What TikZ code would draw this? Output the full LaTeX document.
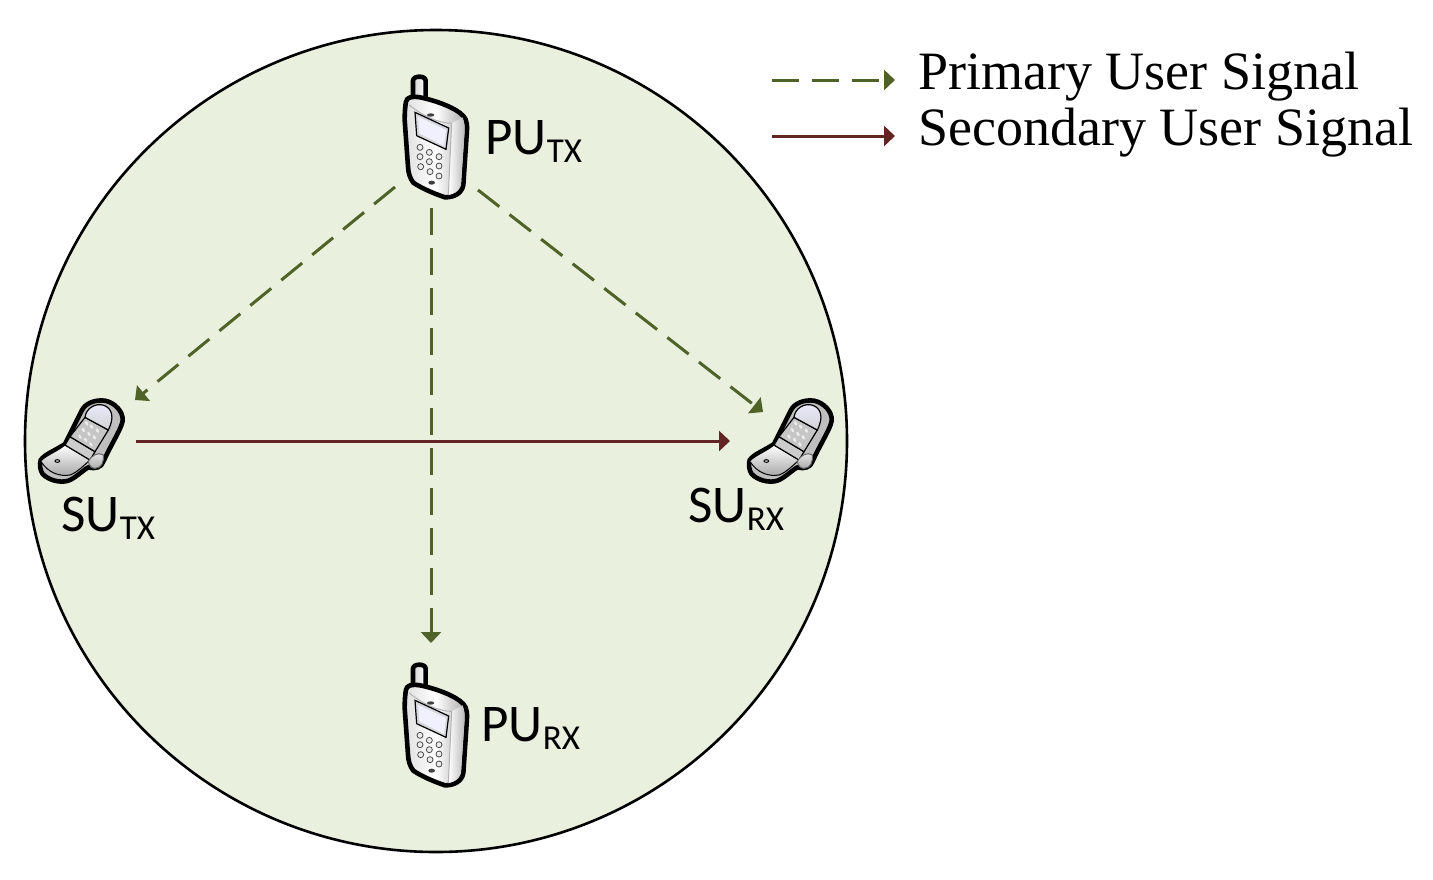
\documentclass[tikz,border=0pt]{standalone}
\usepackage{fontspec}
\usetikzlibrary{arrows.meta}
\setmainfont{Liberation Serif}
\newfontfamily\calib{Carlito}
\definecolor{disc}{HTML}{E9F0DE}
\definecolor{pgreen}{HTML}{4F6228}
\definecolor{sred}{HTML}{632523}
\tikzset{
  x=0.5pt,y=-0.5pt,
  primary/.style={pgreen,line width=1.5pt,dash pattern=on 13.5pt off 6.5pt,-{Triangle[length=5.5pt,width=10pt]}},
  secondary/.style={sred,line width=1.5pt,-{Triangle[length=5.5pt,width=10pt]}},
  devlabel/.style={anchor=base west,inner sep=0pt,font=\calib\fontsize{26.5}{28}\selectfont},
  legendtxt/.style={anchor=base west,inner sep=0pt,font=\fontsize{27}{30}\selectfont},
  iconbox/.style={inner sep=0pt,minimum width=#1},
  ol/.style={line width=2.3pt,line join=round,black},
  zoomed/.style={x=0.16667pt,y=-0.16667pt}
}
% candybar phone, drawn in 3x crop coordinates
\newcommand{\candybar}[2]{%
\begin{scope}[shift={(#1,#2)},zoomed]
  \draw[ol,left color=gray!35,right color=white] (99,115) -- (99,62) .. controls (99,46) and (137,46) .. (137,62) -- (137,125) -- cycle;
  \draw[ol,left color=gray!25,right color=gray!70,middle color=white]
    (78,125) .. controls (80,112) and (95,108) .. (120,112)
    .. controls (170,122) and (230,145) .. (250,168)
    .. controls (262,180) and (262,200) .. (260,225)
    -- (250,375) .. controls (245,402) and (220,412) .. (195,412)
    .. controls (160,400) and (125,385) .. (100,368)
    .. controls (90,355) and (85,340) .. (84,320)
    -- (74,180) .. controls (74,155) and (76,135) .. (78,125) -- cycle;
  \shade[left color=white,right color=gray!55] (215,190) -- (248,172) .. controls (255,190) and (255,210) .. (253,230) -- (243,375) .. controls (235,395) and (222,402) .. (205,405) -- (215,190) -- cycle;
  \draw[line width=0.5pt,gray!60] (88,135) .. controls (130,170) and (180,190) .. (215,190) -- (205,405);
  \draw[line width=0.6pt,black,fill=blue!8!gray!30] (105,157) -- (206,204) -- (198,268) -- (110,227) -- cycle;
  \fill[blue!6!white] (114,170) -- (198,210) -- (192,258) -- (118,220) -- cycle;
  \fill[black!75] (152,165) ellipse (11 and 5);
  \fill[black!75] (155,368) ellipse (10 and 6);
  \foreach \kx/\ky in {120/262,148/277,177/290,120/290,148/305,177/318,122/320,150/335,177/348}
    \draw[line width=0.4pt,black!70,fill=gray!15] (\kx,\ky) circle (9);
\end{scope}}
% flip phone, drawn in 3x crop coordinates
\newcommand{\flipphone}[2]{%
\begin{scope}[shift={(#1,#2)},zoomed]
  \draw[ol,fill=gray!50]
    (62,240) .. controls (75,222) and (105,212) .. (135,192)
    -- (185,92) .. controls (195,70) and (225,58) .. (255,62)
    .. controls (285,68) and (310,95) .. (308,122)
    .. controls (305,145) and (275,190) .. (250,245)
    .. controls (245,262) and (225,268) .. (205,262)
    .. controls (190,270) and (165,295) .. (145,302)
    .. controls (120,310) and (85,300) .. (68,282)
    .. controls (60,270) and (58,255) .. (62,240) -- cycle;
  \draw[line width=0.5pt,black,top color=white,bottom color=gray!70] (62,243) .. controls (80,225) and (110,215) .. (135,195) -- (210,240) .. controls (190,258) and (170,278) .. (150,285) .. controls (120,290) and (85,280) .. (62,243) -- cycle;
  \draw[line width=0.6pt,black,fill=gray!40] (135,195) -- (150,170) -- (225,215) -- (210,240) -- cycle;
  \draw[line width=0.6pt,black,fill=gray!45] (150,170) -- (195,112) -- (265,150) -- (225,215) -- cycle;
  \draw[line width=0.6pt,black,top color=blue!8!white,bottom color=gray!35] (195,112) .. controls (198,85) and (225,68) .. (252,76) .. controls (275,85) and (285,110) .. (265,150) -- cycle;
  \foreach \kx/\ky in {200/130,215/140,232/152,190/150,207/162,223/172,180/170,197/180,213/193}
    \fill[white!85!gray,rotate around={30:(\kx,\ky)}] (\kx,\ky) ellipse (4 and 7);
  \draw[line width=0.5pt,black!60,top color=gray!15,bottom color=gray!65] (205,245) .. controls (215,225) and (235,215) .. (250,225) .. controls (252,245) and (245,265) .. (225,265) .. controls (215,265) and (208,258) .. (205,245) -- cycle;
  \draw[line width=0.5pt,black,fill=gray!30] (112,243) ellipse (7 and 4);
\end{scope}}
\begin{document}
\begin{tikzpicture}
  \useasboundingbox (0,0) rectangle (1433,879);
  \fill[white] (0,0) rectangle (1433,879);
  \node[circle,draw=black,line width=1.3pt,fill=disc,minimum size=411pt,inner sep=0pt] (cell) at (436,441) {};

  \candybar{380}{60}
  \candybar{380}{648}
  \flipphone{20}{380}
  \flipphone{729}{380}

  \node[iconbox=33pt,minimum height=62pt] (putx) at (436,137) {};
  \node[iconbox=33pt,minimum height=62pt] (purx) at (436,725) {};
  \node[iconbox=42pt,minimum height=41pt] (sutx) at (81,441) {};
  \node[iconbox=42pt,minimum height=41pt] (surx) at (790,441) {};

  \node[devlabel] (lputx) at (485,154) {PU\raisebox{-4pt}{\fontsize{17.5}{18}\selectfont TX}};
  \node[devlabel] (lpurx) at (481,741) {PU\raisebox{-4pt}{\fontsize{17.5}{18}\selectfont RX}};
  \node[devlabel] (lsutx) at (61,531) {SU\raisebox{-4pt}{\fontsize{17.5}{18}\selectfont TX}};
  \node[devlabel] (lsurx) at (688,522) {SU\raisebox{-4pt}{\fontsize{17.5}{18}\selectfont RX}};

  \coordinate (p1s) at (395,187);
  \coordinate (p1e) at (135,400);
  \coordinate (p2s) at (431,208);
  \coordinate (p2e) at (431,643);
  \coordinate (p3s) at (478,190);
  \coordinate (p3e) at (763,412);
  \coordinate (s1s) at (136,441);
  \coordinate (s1e) at (730,441);
  \draw[primary] (p1s) -- (p1e);
  \draw[primary] (p2s) -- (p2e);
  \draw[primary] (p3s) -- (p3e);
  \draw[secondary] (s1s) -- (s1e);

  \coordinate (lg1s) at (772,80);
  \coordinate (lg1e) at (895,80);
  \coordinate (lg2s) at (772,136);
  \coordinate (lg2e) at (895,136);
  \draw[primary] (lg1s) -- (lg1e);
  \draw[secondary] (lg2s) -- (lg2e);
  \node[legendtxt] (t1) at (918,89) {Primary User Signal};
  \node[legendtxt] (t2) at (918,145) {Secondary User Signal};
\end{tikzpicture}
\end{document}
